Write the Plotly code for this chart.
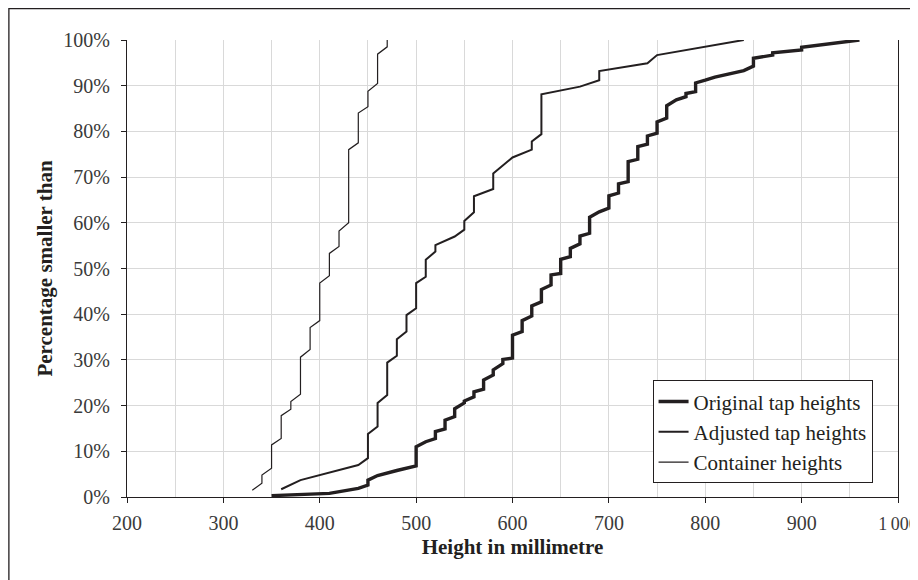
import plotly.graph_objects as go

# ---- data (height in mm, cumulative percentage) ----
orig_x = [350, 410, 440, 450, 450, 460, 480, 500, 500, 510, 520, 520, 530, 530, 540, 540,
          550, 550, 560, 560, 570, 570, 580, 580, 590, 590, 600, 600, 610, 610, 620, 620,
          630, 630, 640, 640, 650, 650, 660, 660, 670, 670, 680, 680, 690, 700, 700, 710, 710,
          720, 720, 730, 730, 740, 740, 750, 750, 760, 760, 770, 780, 780, 790, 790, 800, 810,
          840, 850, 850, 870, 870, 900, 900, 960]
orig_y = [0.3, 0.8, 1.9, 2.6, 3.7, 4.7, 5.8, 6.8, 11.0, 12.1, 12.8, 14.3, 14.9, 16.8, 17.6, 19.3,
          20.6, 21.0, 21.9, 23.0, 23.6, 25.6, 26.7, 27.8, 29.2, 30.1, 30.4, 35.4, 36.2, 38.6, 39.6, 41.8,
          42.7, 45.4, 46.4, 48.6, 48.9, 52.0, 52.6, 54.4, 55.4, 57.1, 57.7, 61.2, 62.4, 63.2, 65.9, 66.5, 68.5,
          69.0, 73.4, 73.9, 76.7, 77.2, 79.0, 79.6, 82.1, 82.9, 85.6, 86.9, 87.6, 88.3, 88.7, 90.6, 91.2, 91.9,
          93.3, 94.3, 96.0, 96.7, 97.2, 97.8, 98.4, 100.0]

adj_x = [360, 380, 440, 450, 450, 460, 460, 470, 470, 480, 480, 490, 490, 500, 500, 510, 510,
         520, 520, 540, 550, 550, 560, 560, 580, 580, 600, 620, 620, 630, 630, 670, 690, 690,
         740, 750, 840]
adj_y = [1.7, 3.7, 7.0, 8.5, 13.8, 15.4, 20.6, 22.3, 29.4, 30.9, 34.5, 36.2, 39.8, 41.3, 46.8, 48.2, 51.9,
         53.7, 55.1, 57.0, 58.5, 60.4, 62.3, 65.8, 67.4, 70.8, 74.3, 76.0, 77.8, 79.4, 88.1, 89.8, 91.2, 93.2,
         94.9, 96.7, 100.0]

cont_x = [330, 340, 340, 350, 350, 360, 360, 370, 370, 380, 380, 390, 390, 400, 400, 410, 410,
          420, 420, 430, 430, 440, 440, 450, 450, 460, 460, 470, 470]
cont_y = [1.5, 3.0, 4.8, 6.3, 11.4, 12.8, 17.8, 19.2, 20.9, 22.5, 30.6, 32.3, 37.1, 38.6, 46.8, 48.4, 53.3,
          54.8, 58.2, 60.0, 76.0, 77.5, 84.0, 85.4, 88.8, 90.5, 96.9, 98.5, 100.0]

x_tickvals = [200, 300, 400, 500, 600, 700, 800, 900, 1000]
x_ticktext = ["200", "300", "400", "500", "600", "700", "800", "900",
              "<span style='font-size:18px'>1\u2009000</span>"]

INK = "#231f20"
TICKC = "#3a3a3a"
GRID = "#d9d9d9"
FONT = "Liberation Serif"

fig = go.Figure()
fig.add_trace(go.Scatter(x=orig_x, y=orig_y, mode="lines", name="Original tap heights",
                         line=dict(color=INK, width=3.4)))
fig.add_trace(go.Scatter(x=adj_x, y=adj_y, mode="lines", name="Adjusted tap heights",
                         line=dict(color=INK, width=2.0)))
fig.add_trace(go.Scatter(x=cont_x, y=cont_y, mode="lines", name="Container heights",
                         line=dict(color=INK, width=1.2)))

fig.update_layout(
    width=910, height=572,
    margin=dict(l=119, r=20, t=32, b=83),
    paper_bgcolor="white", plot_bgcolor="white",
    font=dict(family=FONT, size=20, color=TICKC),
    showlegend=True,
    legend=dict(x=0.967, y=0.03, xanchor="right", yanchor="bottom",
                bgcolor="white", bordercolor=INK, borderwidth=1,
                font=dict(family=FONT, size=21, color=INK),
                tracegroupgap=0, itemwidth=30),
    shapes=[dict(type="rect", xref="paper", yref="paper",
                 x0=-0.1532, x1=1.05, y0=-0.25, y1=1.0685,
                 line=dict(color=INK, width=1.3), fillcolor="rgba(0,0,0,0)", layer="below")],
)

fig.update_xaxes(
    range=[200, 1000], tickvals=x_tickvals, ticktext=x_ticktext,
    showgrid=True, gridcolor=GRID, gridwidth=1,
    minor=dict(dtick=50, tick0=200, showgrid=True, gridcolor=GRID, gridwidth=1, ticklen=0),
    showline=True, linecolor=INK, linewidth=1.3,
    ticks="outside", ticklen=5, tickcolor=INK, tickwidth=1.2,
    ticklabelstandoff=3, ticklabeloverflow="allow",
    zeroline=False, automargin=False,
    title=dict(text="<b>Height in millimetre</b>", font=dict(family=FONT, size=21, color=INK), standoff=6),
    tickfont=dict(family=FONT, size=20, color=TICKC),
)
fig.update_yaxes(
    range=[0, 100], dtick=10, tick0=0, ticksuffix="%",
    showgrid=True, gridcolor=GRID, gridwidth=1,
    showline=True, linecolor=INK, linewidth=1.3, mirror=True,
    ticks="outside", ticklen=5, tickcolor=INK, tickwidth=1.2,
    ticklabelstandoff=7,
    zeroline=False, automargin=False,
    title=dict(text="<b>Percentage smaller than</b>", font=dict(family=FONT, size=21, color=INK), standoff=4),
    tickfont=dict(family=FONT, size=20, color=TICKC),
)

fig.write_html("out.html")
